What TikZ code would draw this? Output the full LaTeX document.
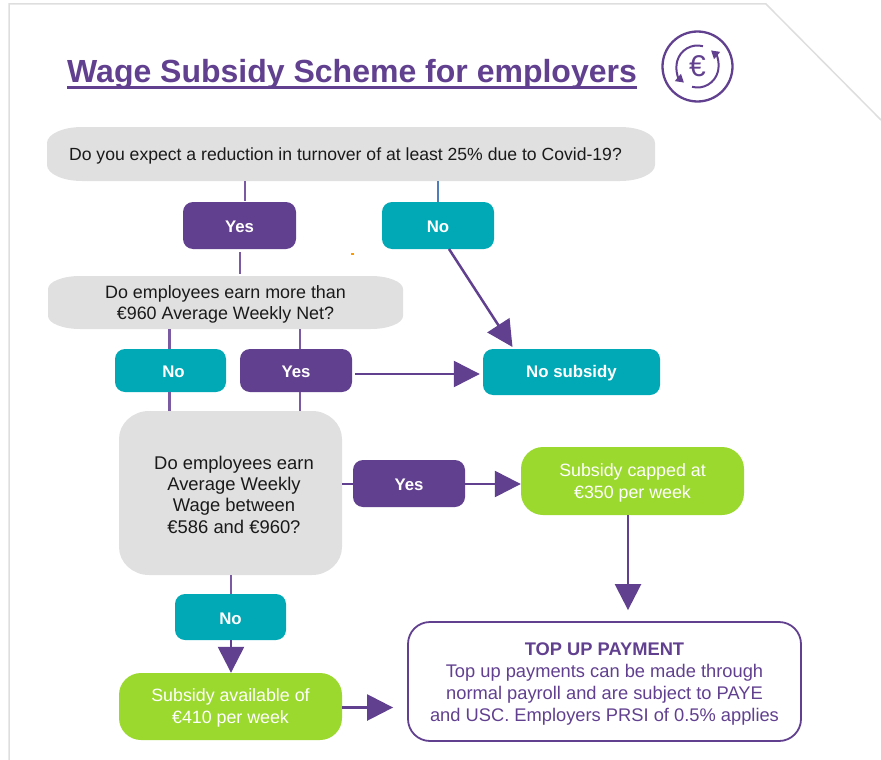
\documentclass[tikz,border=0pt]{standalone}
\usepackage{fontspec}
\setmainfont{Liberation Sans}
\usetikzlibrary{arrows.meta,calc}
\definecolor{wpurple}{HTML}{61408F}
\definecolor{wstub}{HTML}{7A5AA0}
\definecolor{wblue}{HTML}{4F7CBA}
\definecolor{wteal}{HTML}{00A9B5}
\definecolor{wlime}{HTML}{9BD92F}
\definecolor{wgray}{HTML}{E0E0E0}
\definecolor{wframe}{HTML}{DEDEDE}
\definecolor{wink}{HTML}{1A1A1A}
\tikzset{
  boxbase/.style={inner sep=0pt,align=center,rounded corners=#1},
  boxbase/.default=10pt,
  choiceyes/.style={boxbase=10pt,fill=wpurple,text=white,font=\fontsize{16.8}{20}\selectfont\bfseries},
  choiceno/.style={boxbase=10pt,fill=wteal,text=white,font=\fontsize{16.8}{20}\selectfont\bfseries},
  question/.style={inner sep=0pt,align=center,text=wink,font=\fontsize{17.6}{21.3}\selectfont},
  result/.style={boxbase=22pt,fill=wlime,text=white,font=\fontsize{17.8}{21.7}\selectfont},
  stub/.style={draw=wstub,line width=2.2pt},
  flow/.style={draw=wpurple,line width=2.5pt,-{Triangle[length=26pt,width=26pt]}},
}
% name, x0, y0, x1, y1, style, text : the box, then its text set slightly lower
\newcommand{\pxbox}[7]{\node[#6,minimum width={(#4-#2)*1pt},minimum height={(#5-#3)*1pt}] (#1) at ({(#2+#4)/2},{(#3+#5)/2}) {};
  \node[#6,fill=none] (#1t) at ({(#2+#4)/2},{(#3+#5)/2+1.6}) {#7};}
% x0, y0, x1, y1, rx, ry : soft-cornered grey panel
\newcommand{\softpanel}[6]{\fill[wgray]
  ({#1+#5},#2) -- ({#3-#5},#2)
  .. controls ({#3-0.45*#5},#2) and (#3,{#2+0.45*#6}) .. (#3,{#2+#6})
  -- (#3,{#4-#6})
  .. controls (#3,{#4-0.45*#6}) and ({#3-0.45*#5},#4) .. ({#3-#5},#4)
  -- ({#1+#5},#4)
  .. controls ({#1+0.45*#5},#4) and (#1,{#4-0.45*#6}) .. (#1,{#4-#6})
  -- (#1,{#2+#6})
  .. controls (#1,{#2+0.45*#6}) and ({#1+0.45*#5},#2) .. ({#1+#5},#2) -- cycle;}
\begin{document}
\begin{tikzpicture}[x=1pt,y=-1pt]
\useasboundingbox (0,0) rectangle (881,760);
% page outline
\draw[wframe,line width=1.5pt] (9,760) -- (9,4) -- (766,4) -- (881,120);
% title
\node[inner sep=0pt,anchor=base west,text=wpurple,font=\fontsize{32}{36}\selectfont\bfseries] (title) at (67,82) {Wage Subsidy Scheme for employers};
\draw[wpurple,line width=3pt] ($(title.base west)+(0,5.5)$) -- ($(title.base east)+(0,5.5)$);
% icon
\node[circle,draw=wpurple,line width=2.3pt,minimum size=70pt,inner sep=0pt,text=wpurple,font=\fontsize{30}{30}\selectfont] (icon) at (697.5,66.5) {€};
\begin{scope}[shift={(697.5,66.5)},y=1pt,wpurple,line width=2pt]
\draw[-{Triangle[length=8pt,width=9pt]}] (-105:21) arc[start angle=-105,end angle=50,radius=21];
\draw[-{Triangle[length=8pt,width=9pt]}] (75:21) arc[start angle=75,end angle=230,radius=21];
\end{scope}
% grey panels
\softpanel{47}{127}{655}{181}{35}{16}
\softpanel{48}{276}{403}{329}{32}{13}
\softpanel{119}{411}{342}{575}{30}{28}
% nodes
\pxbox{q1}{47}{127}{655}{181}{question}{\hspace*{-11pt}Do you expect a reduction in turnover of at least 25\% due to Covid-19?}
\pxbox{yesa}{183}{202}{296}{249}{choiceyes}{Yes}
\pxbox{noa}{382}{202}{494}{249}{choiceno}{No}
\pxbox{q2}{48}{276}{403}{329}{question,font=\fontsize{17.9}{21.3}\selectfont}{Do employees earn more than\\€960 Average Weekly Net?}
\pxbox{nob}{115}{349}{226}{392}{choiceno}{\hspace*{6pt}No}
\pxbox{yesb}{240}{349}{352}{392}{choiceyes}{Yes}
\pxbox{nosub}{483}{349}{660}{395}{choiceno}{No subsidy}
\pxbox{q3}{119}{411}{342}{575}{question,font=\fontsize{18.4}{21.3}\selectfont}{\hspace*{7pt}Do employees earn\\\hspace*{7pt}Average Weekly\\\hspace*{7pt}Wage between\\\hspace*{7pt}€586 and €960?}
\pxbox{yesc}{353}{460}{465}{507}{choiceyes}{Yes}
\pxbox{cap}{521}{447}{744}{515}{result}{Subsidy capped at\\€350 per week}
\pxbox{noc}{175}{594}{286}{640}{choiceno}{No}
\pxbox{avail}{119}{673}{342}{740}{result}{Subsidy available of\\€410 per week}
\node[draw=wpurple,line width=1.8pt,rounded corners=22pt,minimum width=393pt,minimum height=119pt,inner sep=0pt] (top) at (604.5,681.5) {};
\node[inner sep=0pt,align=center,text=wpurple,font=\fontsize{18.3}{21.7}\selectfont] (topt) at (604.5,684) {{\bfseries TOP UP PAYMENT}\\Top up payments can be made through\\normal payroll and are subject to PAYE\\and USC. Employers PRSI of 0.5\% applies};
% connector guides
\coordinate (ga) at (245,0);
\coordinate (gb) at (438,0);
\coordinate (gc) at (240,0);
\coordinate (gd) at (169.5,0);
\coordinate (ge) at (300,0);
\coordinate (gf) at (231,0);
\coordinate (gg) at (628,0);
\coordinate (hb) at (0,374);
\coordinate (hc) at (0,484);
\coordinate (hd) at (0,707.5);
% stubs
\draw[stub] (q1.south -| ga) -- ($(yesa.north -| ga)+(0,-1)$);
\draw[draw=wblue,line width=1.5pt] (q1.south -| gb) -- (noa.north -| gb);
\draw[stub] ($(yesa.south -| gc)+(0,3)$) -- ($(q2.north -| gc)+(0,-2)$);
\draw[stub] (q2.south -| gd) -- (nob.north -| gd);
\draw[stub] (q2.south -| ge) -- (yesb.north -| ge);
\draw[stub] (nob.south -| gd) -- (q3.north -| gd);
\draw[stub] (yesb.south -| ge) -- (q3.north -| ge);
\draw[draw=wpurple,line width=2.2pt] (q3.east |- hc) -- (yesc.west |- hc);
\draw[stub] (q3.south -| gf) -- (noc.north -| gf);
% arrows
\coordinate (aa) at (449,249);
\coordinate (ab) at (512.5,347);
\draw[flow] (aa) -- (ab);
\draw[flow] ($(yesb.east |- hb)+(3,0)$) -- ($(nosub.west |- hb)+(-3,0)$);
\draw[flow] (yesc.east |- hc) -- (cap.west |- hc);
\draw[flow] (cap.south -| gg) -- ($(top.north -| gg)+(0,-11)$);
\draw[flow] (noc.south -| gf) -- (avail.north -| gf);
\draw[flow] (avail.east |- hd) -- ($(top.west |- hd)+(-14,0)$);
% stray mark
\fill[orange!80!yellow] (351.3,252.5) rectangle (353.5,255);
\end{tikzpicture}
\end{document}
